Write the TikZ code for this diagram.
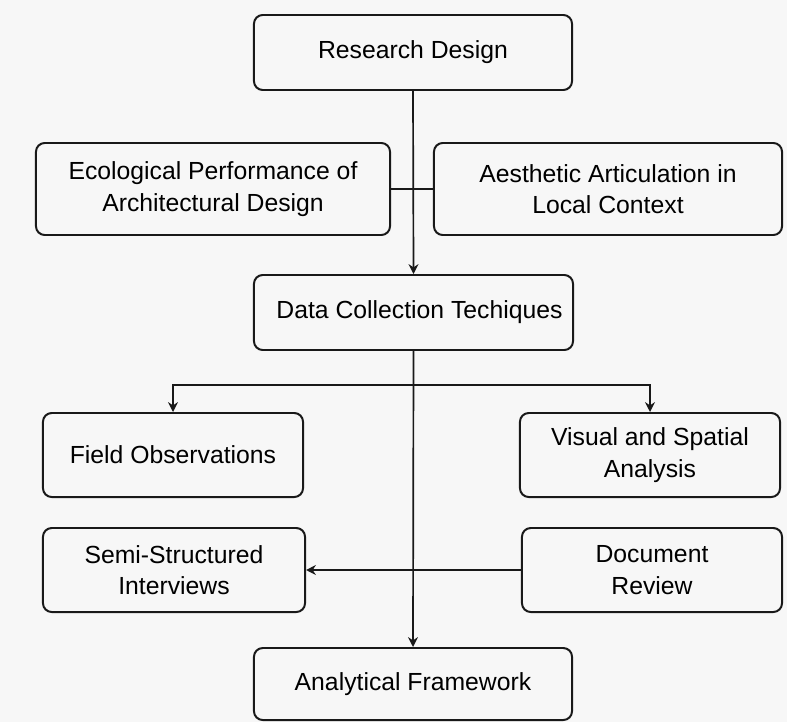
\documentclass[tikz,border=0pt]{standalone}
\usepackage{fontspec}
\setmainfont{Liberation Sans}
\usetikzlibrary{arrows.meta, positioning}

\tikzset{
  stepbox/.style={rectangle, draw=black!90, line width=1.4pt, rounded corners=2.2mm,
    inner sep=0pt, align=center, text=black,
    font=\fontsize{17.6}{22.5}\selectfont},
  link/.style={line width=1.2pt, draw=black!90},
  linkarrow/.style={link, -{Stealth[length=7pt, width=7pt]}},
}

\begin{document}
\begin{tikzpicture}[x=0.025cm, y=-0.025cm]
    %frame of the picture
    \fill[black!3] (0,0) rectangle (787,722);
    \useasboundingbox (0,0) rectangle (787,722);
    %boxes
    \node[stepbox, minimum width=7.95cm, minimum height=1.875cm](design) at (413,52.5) {Research Design};
    \node[stepbox, minimum width=8.85cm, minimum height=2.3cm](ecology) at (213,189) {Ecological Performance of\\Architectural Design};
    \node[stepbox, minimum width=8.7cm, minimum height=2.3cm](aesthetic) at (608,189) {Aesthetic Articulation in\\Local Context};
    \node[stepbox, minimum width=7.975cm, minimum height=1.875cm](data) at (413.5,312.5) {\hspace*{3mm}Data Collection Techiques};
    \node[stepbox, minimum width=6.5cm, minimum height=2.1cm](field) at (173,455) {Field Observations};
    \node[stepbox, minimum width=6.5cm, minimum height=2.1cm](visual) at (650,455) {Visual and Spatial\\Analysis};
    \node[stepbox, minimum width=6.55cm, minimum height=2.1cm](semi) at (174,570) {Semi-Structured\\Interviews};
    \node[stepbox, minimum width=6.5cm, minimum height=2.1cm](review) at (652,570) {Document\\Review};
    \node[stepbox, minimum width=7.95cm, minimum height=1.8cm](frame) at (413,684) {Analytical Framework};
    %connectors
    \coordinate (split) at (413,385);
    \draw[linkarrow] (design.south) -- (data.north);
    \draw[link] (ecology.east) -- (aesthetic.west);
    \draw[linkarrow] (data.south) -- (frame.north);
    \draw[linkarrow] (split) -| (field.north);
    \draw[linkarrow] (split) -| (visual.north);
    \draw[linkarrow] (review.west) -- (semi.east);
\end{tikzpicture}
\end{document}
